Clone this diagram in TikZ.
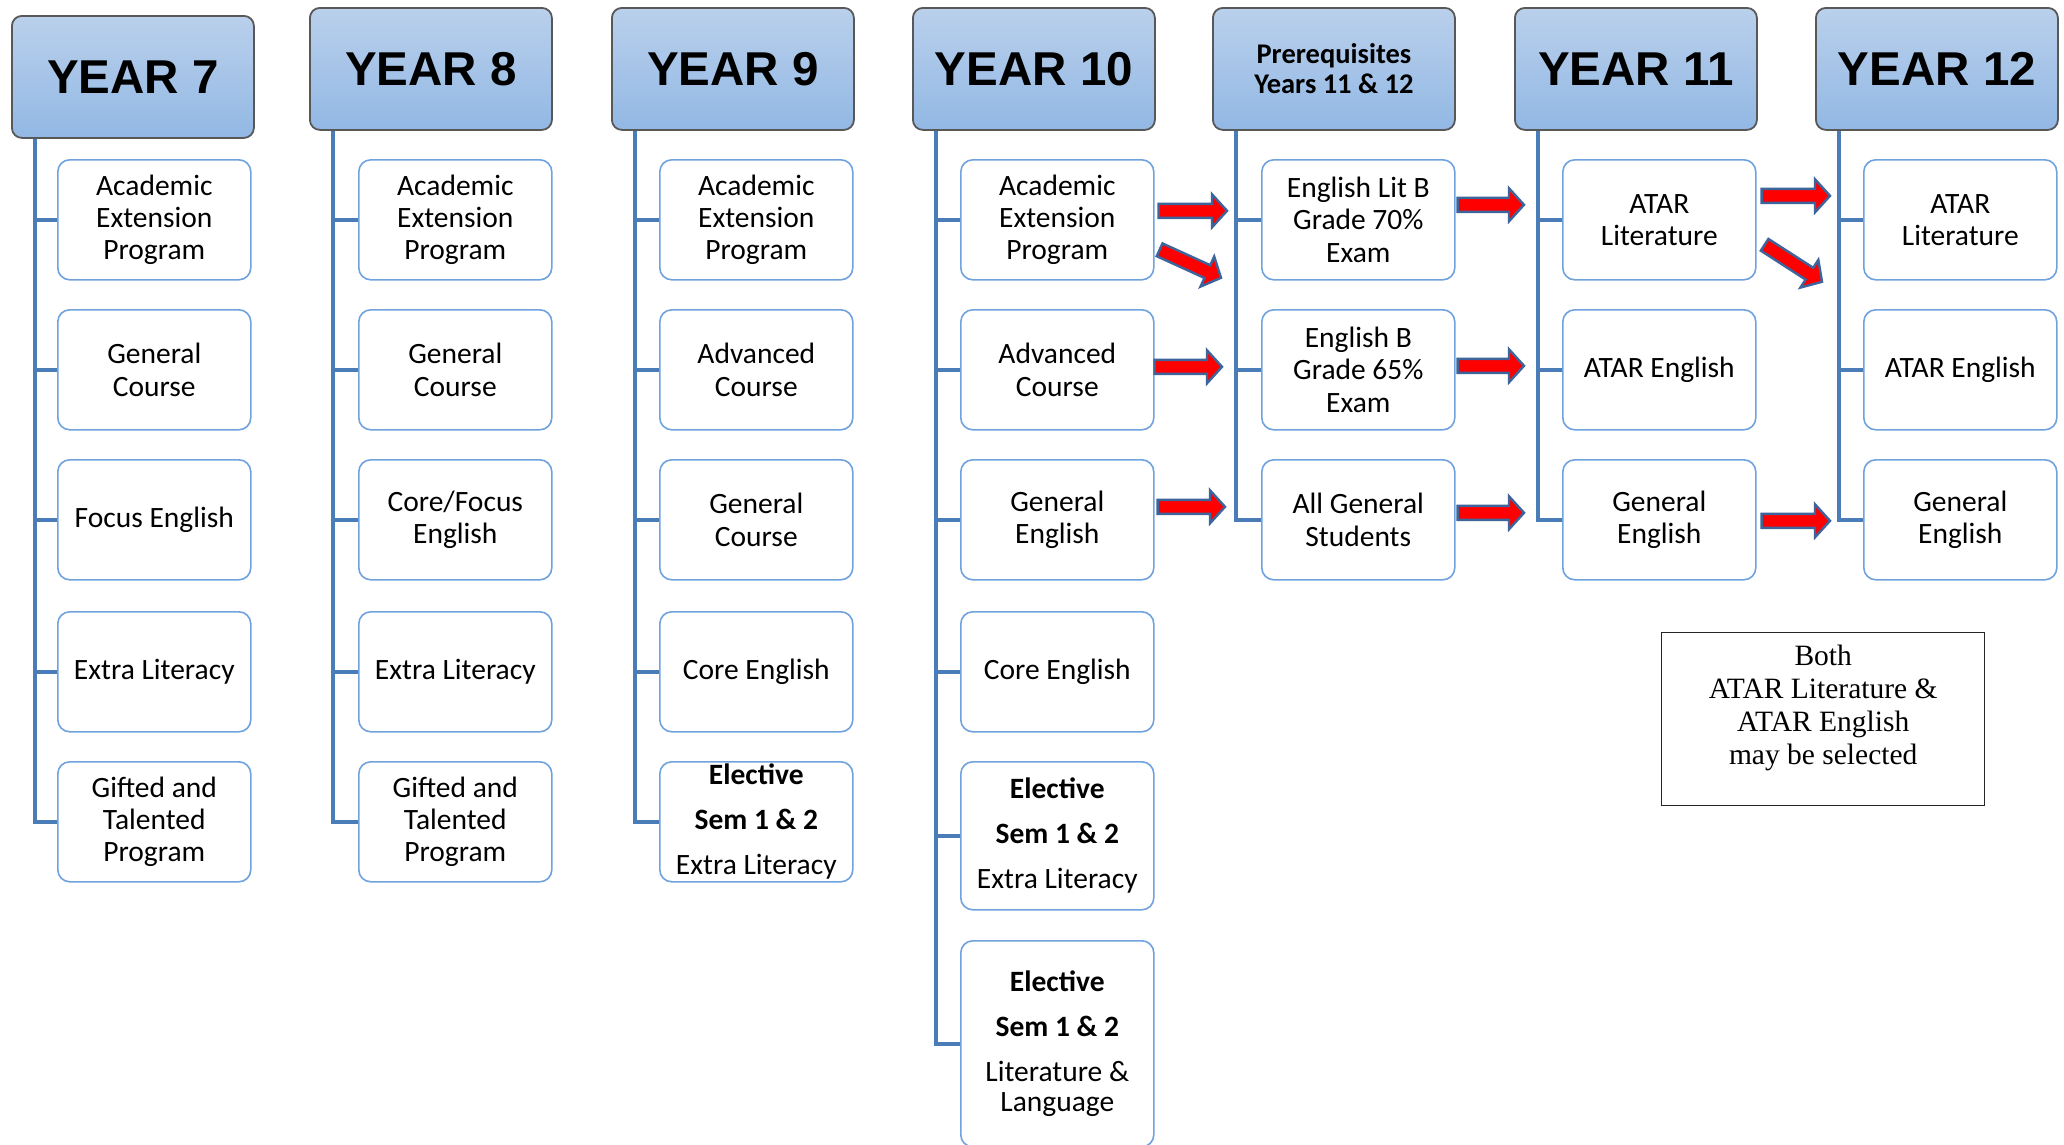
\documentclass[tikz,border=0pt]{standalone}
\usepackage{fontspec}
\newfontfamily\calfont{Carlito}
\newfontfamily\hdrfont{Liberation Sans}
\newfontfamily\notefont{Liberation Serif}
\usetikzlibrary{calc}

\definecolor{hdrtop}{RGB}{186,208,236}
\definecolor{hdrbot}{RGB}{146,184,228}
\definecolor{hdrline}{RGB}{88,88,88}
\definecolor{stemblue}{RGB}{74,124,184}
\definecolor{boxline}{RGB}{112,162,222}
\definecolor{arrline}{RGB}{62,100,156}

% block arrow: name, tail point, tip point
% shaft half-width 7pt, head half-width 16.5pt, head length 15pt
\newcommand\blockarrow[3]{%
  \coordinate (#1t) at #2;
  \coordinate (#1p) at #3;
  \coordinate (#1h) at ($(#1p)!15pt!(#1t)$);
  \filldraw[blockarr]
    ($(#1t)!7pt!-90:(#1p)$) -- ($(#1h)!7pt!-90:(#1p)$)
    -- ($(#1h)!16.5pt!-90:(#1p)$) -- (#1p)
    -- ($(#1h)!16.5pt!90:(#1p)$) -- ($(#1h)!7pt!90:(#1p)$)
    -- ($(#1t)!7pt!90:(#1p)$) -- cycle;}

\begin{document}
\begin{tikzpicture}[x=1pt,y=-1pt,
  hdr/.style={rounded corners=10pt, draw=hdrline, line width=1.8pt,
    top color=hdrtop, bottom color=hdrbot, minimum width=242pt,
    minimum height=122pt, inner sep=0pt, anchor=north west, align=center,
    font=\hdrfont\bfseries\fontsize{47.5}{50}\selectfont},
  prehdr/.style={hdr, font=\calfont\bfseries\fontsize{28.5}{32}\selectfont},
  child/.style={rounded corners=12pt, draw=boxline, line width=1.6pt,
    fill=white, minimum width=193pt, minimum height=120pt, inner sep=2pt,
    anchor=north west, align=center,
    font=\calfont\fontsize{29.5}{32.3}\selectfont},
  elective/.style={child, inner sep=0pt,
    font=\calfont\fontsize{29.5}{45}\selectfont},
  stem/.style={draw=stemblue, line width=3.6pt, line join=miter},
  blockarr/.style={draw=arrline, fill=red, line width=2.4pt, line join=miter},
  note/.style={draw=black!85, line width=1.4pt, minimum width=323pt,
    minimum height=173pt, anchor=north west, align=center, inner sep=0pt,
    font=\notefont\fontsize{29.5}{33}\selectfont}
]
\clip (0,0) rectangle (2064,1144);
\fill[white] (0,0) rectangle (2064,1144);

% ---------- column headers ----------
\node[hdr] (h7)  at (11,15)  {YEAR 7};
\node[hdr] (h8)  at (309,7)  {YEAR 8};
\node[hdr] (h9)  at (611,7)  {YEAR 9};
\node[hdr] (h10) at (912,7)  {YEAR 10};
\node[prehdr] (hp) at (1212,7) {Prerequisites\\[-2pt]Years 11 \& 12};
\node[hdr] (h11) at (1514,7) {YEAR 11};
\node[hdr] (h12) at (1815,7) {YEAR 12};

% ---------- Year 7 ----------
\node[child] (y7a) at (57,159) {Academic\\Extension\\Program};
\node[child] (y7b) at (57,309) {General\\Course};
\node[child] (y7c) at (57,459) {Focus English};
\node[child] (y7d) at (57,611) {Extra Literacy};
\node[child] (y7e) at (57,761) {Gifted and\\Talented\\Program};

% ---------- Year 8 ----------
\node[child] (y8a) at (358,159) {Academic\\Extension\\Program};
\node[child] (y8b) at (358,309) {General\\Course};
\node[child] (y8c) at (358,459) {Core/Focus\\English};
\node[child] (y8d) at (358,611) {Extra Literacy};
\node[child] (y8e) at (358,761) {Gifted and\\Talented\\Program};

% ---------- Year 9 ----------
\node[child] (y9a) at (659,159) {Academic\\Extension\\Program};
\node[child] (y9b) at (659,309) {Advanced\\Course};
\node[child] (y9c) at (659,459) {General\\Course};
\node[child] (y9d) at (659,611) {Core English};
\node[elective] (y9e) at (659,761)
  {\textbf{Elective}\\\textbf{Sem 1 \& 2}\\Extra Literacy};

% ---------- Year 10 ----------
\node[child] (y10a) at (960,159) {Academic\\Extension\\Program};
\node[child] (y10b) at (960,309) {Advanced\\Course};
\node[child] (y10c) at (960,459) {General\\English};
\node[child] (y10d) at (960,611) {Core English};
\node[elective, minimum height=148pt] (y10e) at (960,761)
  {\textbf{Elective}\\\textbf{Sem 1 \& 2}\\Extra Literacy};
\node[elective, minimum height=206pt] (y10f) at (960,940)
  {\textbf{Elective}\\\textbf{Sem 1 \& 2}\\Literature \&\\[-15pt]Language};

% ---------- Prerequisites ----------
\node[child] (pa) at (1261,159) {English Lit B\\Grade 70\%\\Exam};
\node[child] (pb) at (1261,309) {English B\\Grade 65\%\\Exam};
\node[child] (pc) at (1261,459) {All General\\Students};

% ---------- Year 11 ----------
\node[child] (y11a) at (1562,159) {ATAR\\Literature};
\node[child] (y11b) at (1562,309) {ATAR English};
\node[child] (y11c) at (1562,459) {General\\English};

% ---------- Year 12 ----------
\node[child] (y12a) at (1863,159) {ATAR\\Literature};
\node[child] (y12b) at (1863,309) {ATAR English};
\node[child] (y12c) at (1863,459) {General\\English};

% ---------- stems from each header ----------
\foreach \h/\c/\last/\rest in {h7/y7/e/{a,b,c,d}, h8/y8/e/{a,b,c,d},
    h9/y9/e/{a,b,c,d}, h10/y10/f/{a,b,c,d,e}, hp/p/c/{a,b},
    h11/y11/c/{a,b}, h12/y12/c/{a,b}} {
  \coordinate (t\h) at ($(\h.south west)+(24,0)$);
  \draw[stem] (t\h) |- (\c\last.west);
  \foreach \r in \rest { \draw[stem] (\c\r.west) -- (\c\r.west -| t\h); }
}

% ---------- progression arrows ----------
\blockarrow{a1}{($(y10a.east)+(4,-9)$)}{($(pa.west)+(-34,-9)$)}
\blockarrow{a2}{($(y10a.east)+(5,30)$)}{($(pa.west)+(-40,58)$)}
\blockarrow{a3}{($(y10b.east)+(0,-3)$)}{($(pb.west)+(-39,-3)$)}
\blockarrow{a4}{($(y10c.east)+(3,-13)$)}{($(pc.west)+(-36,-13)$)}
\blockarrow{a5}{($(pa.east)+(2,-15)$)}{($(y11a.west)+(-38,-15)$)}
\blockarrow{a6}{($(pb.east)+(2,-4)$)}{($(y11b.west)+(-38,-4)$)}
\blockarrow{a7}{($(pc.east)+(2,-7)$)}{($(y11c.west)+(-38,-7)$)}
\blockarrow{a8}{($(y11a.east)+(5,-24)$)}{($(y12a.west)+(-33,-24)$)}
\blockarrow{a9}{($(y11a.east)+(8,25)$)}{($(y12a.west)+(-41,62)$)}
\blockarrow{a10}{($(y11c.east)+(5,1)$)}{($(y12c.west)+(-33,1)$)}

% ---------- note ----------
\node[note] (nb) at (1661,632)
  {Both\\ATAR Literature \&\\ATAR English\\may be selected\\[-4pt]\mbox{}};
\end{tikzpicture}
\end{document}
